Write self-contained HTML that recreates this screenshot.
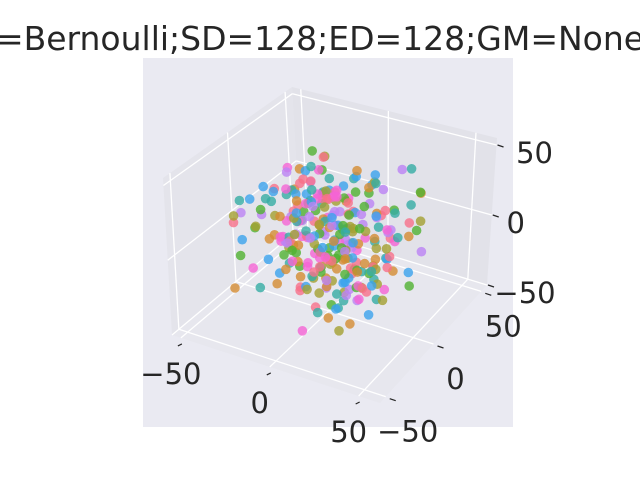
<!DOCTYPE html>
<html><head><meta charset="utf-8"><style>
html,body{margin:0;padding:0;background:#fff;}
svg{display:block;font-family:"DejaVu Sans","Liberation Sans",sans-serif;}
</style></head><body>
<svg id="chart" width="640" height="480" viewBox="0 0 640 480">
<rect x="0" y="0" width="640" height="480" fill="#ffffff"/>
<text x="320" y="50" text-anchor="middle" font-size="33" fill="#262626">=Bernoulli;SD=128;ED=128;GM=None</text>
<rect x="143" y="58" width="370" height="369" fill="#eaeaf2"/>
<g id="panes"></g><g id="grid"></g><g id="pts"></g><g id="ticks"></g>
</svg>
<script>
const xs=[12,-30,5,33,-18,27,-8,40,-36,15,-2,22,-25,8,35,-12,0,-38,18,-22,30,-5,10,-28,25,-15,38,-33,3,20,-10,28,-20,6,-40,14,-6,32,-26,1,
24,-16,36,-3,-31,11,29,-23,7,-35,17,-9,34,-19,2,26,-13,39,-29,9,-1,21,-24,13,37,-11,4,-37,19,-21,31,-7,16,-27,23,-14,35,-34,0,22,
-8,30,-17,12,-39,6,27,-4,-30,18,-12,33,-25,9,38,-15,3,-33,20,-20,28,-6,14,-28,25,-18,36,-36,5,19,-10,26,-22,8,-38,15,-3,31,-24,2,
17,-14,34,-1,-32,10,29,-26,7,-34,21,-9,32,-17,4,27,-11,37,-31,11,-2,23,-19,13,35,-13,6,-35,16,-23,30,-5,18,-29,24,-16,33,-37,1,20,
-5,18,-22,9,27,-14,3,-30,20,-8,14,-19,31,-2,7,-26,24,-11,0,16,-33,11,-17,28,-6,22,-24,5,-12,34,-28,13,-3,25,-20,8,-9,19,-35,2,
30,-15,10,-27,17,-1,26,-21,6,-10,23,-32,12,-4,29,-18,4,-25,15,-7,21,-13,32,-23,1,-16,9,27,-29,14,-6,18,-11,24,-2,-34,11,20,-19,5,
-27,16,-3,29,-14,7,-22,22,-8,13,-31,3,26,-17,10,-5,33,-24,0,19,-12,6,-28,25,-1,15,-20,9,-36,21,-9,12,28,-15,2,-23,17,-4,31,-26,
8,-13,24,-30,14,-7,20,-18,4,27,-2,-21,11,16,-33,6,-10,23,-25,1];
const ys=[-20,15,33,-5,28,-35,10,-12,3,38,-28,20,-8,-38,5,30,-22,12,-30,36,-15,25,-2,-33,18,8,-25,22,-10,-18,35,0,27,-36,14,-6,31,-26,9,-14,
38,-3,19,-31,24,-20,6,32,-11,-24,15,29,-37,4,21,-16,11,-29,26,-7,34,-21,2,17,-33,-9,37,-19,7,28,-27,13,-4,23,-34,1,30,-12,16,-23,
-30,9,25,-17,4,36,-1,-27,20,-36,11,33,-8,-22,27,-13,18,-32,6,24,-26,14,-5,38,-18,2,-29,21,-11,31,-3,-34,17,8,-24,35,-15,26,-7,12,
-20,29,-35,5,22,-9,37,-28,15,3,-16,32,-25,19,-2,-31,10,27,-14,34,-21,7,-38,23,-6,16,36,-23,1,-12,28,-33,13,-19,30,-4,24,-27,9,-10,
14,-9,25,-27,3,18,-16,8,-31,22,-4,11,-20,29,-13,5,-24,16,-1,-34,27,-7,12,-19,33,-11,2,-28,20,7,-15,24,-3,-22,10,31,-26,0,17,-12,
-6,21,-29,13,-18,28,4,-10,35,-23,1,15,-14,26,-32,9,-5,19,-21,30,-8,6,-25,23,-2,12,-17,34,-9,-30,18,3,-13,27,-20,10,-4,-26,21,-11,
5,-19,32,-7,14,-24,8,-1,25,-15,20,-33,11,-6,29,-12,2,-22,16,-28,24,-3,13,-18,31,-9,7,-25,19,0,-14,26,-31,9,-5,22,-20,15,-10,28,
-27,4,17,-8,33,-16,1,23,-23,11,-12,30,-2,-29,18,-6,8,-21,25,-15];
const zs=[5,-25,18,30,-10,-30,22,8,-15,0,35,-20,12,-35,26,-5,32,14,-28,3,20,-12,-38,28,-3,16,-22,9,38,-18,2,-32,24,-8,10,34,-26,-14,19,-1,
-6,27,-33,12,23,-17,-29,4,36,-9,-23,15,1,-36,29,11,-19,-4,21,33,-13,6,-27,25,-7,-34,17,-2,37,-21,7,31,-16,-24,13,-39,24,3,-11,28,
14,-8,36,-30,20,-4,-18,30,0,10,-25,22,-35,8,-14,33,-6,19,-21,26,-31,5,15,-10,38,-27,-2,24,11,-37,29,-16,6,-23,17,-12,32,-5,-28,21,
-19,9,27,-33,1,18,-9,35,-24,12,4,-29,23,-15,31,-1,-20,7,-36,16,25,-11,-3,34,-26,13,-7,28,-17,2,-32,20,-22,10,37,-13,19,-30,-8,0,
-12,20,4,-26,15,-3,30,-18,9,-8,24,-31,1,13,-22,34,-6,19,-14,7,-28,11,26,-1,-17,32,-9,21,-24,5,16,-33,10,-4,28,-20,2,23,-11,-29,
14,-7,33,-15,6,25,-25,0,18,-10,31,-23,8,-2,22,-32,12,-16,27,3,-21,17,-5,-27,29,9,-13,36,-19,1,20,-30,7,-9,24,-3,15,-24,11,30,
-16,4,26,-8,-34,19,-1,13,-26,32,-12,6,21,-18,0,-29,14,25,-6,9,-22,33,-4,17,-14,2,27,-31,10,-10,23,-20,5,29,-25,12,-2,18,-15,35,
-7,8,-23,22,-11,3,28,-28,16,-5,-19,31,-9,11,-32,20,1,-17,26,-13];
const cls=[3,1,5,0,7,2,6,4,1,3,0,5,2,7,4,6,3,0,1,5,7,2,4,6,0,3,5,1,6,2,7,4,3,0,5,1,2,6,4,7,
0,5,3,2,1,6,7,4,0,3,2,5,6,1,4,7,3,0,5,2,6,1,4,3,7,0,2,5,1,6,3,4,0,7,2,5,1,3,6,4,
7,0,2,3,5,1,4,6,0,2,7,3,1,5,6,4,2,0,3,7,1,6,5,4,0,3,2,7,6,1,5,4,3,0,2,6,7,1,5,3,
4,0,6,2,1,7,3,5,0,4,2,6,1,3,7,5,0,2,4,6,3,1,7,5,2,0,6,4,3,1,5,7,0,2,6,3,4,1,7,5,
5,2,7,0,4,1,3,6,2,5,0,7,4,3,1,6,5,2,0,4,7,3,6,1,2,5,4,0,3,7,6,2,1,5,0,4,3,6,7,2,
1,4,0,6,3,5,2,7,4,1,6,0,5,3,2,7,1,4,6,0,3,5,7,2,0,6,1,4,5,3,7,0,2,4,6,1,3,5,7,2,
6,3,1,4,0,5,7,2,3,6,4,1,0,7,5,2,6,3,4,0,1,7,2,5,3,6,0,4,7,1,5,2,3,0,6,4,1,7,5,3,
2,6,0,4,7,1,3,5,6,2,4,0,1,7,3,5,2,6,4,0];
const palette=["#f77189","#d58c32","#a4a031","#50b131","#36ada4","#3ba3ec","#bb83f4","#f564d4"];
const xTicks=[-50,0,50], yTicks=[-50,0,50], zTicks=[-50,0,50];
const xTickLabels=["−50","0","50"], yTickLabels=["−50","0","50"], zTickLabels=["−50","0","50"];

const xlim=[-55,62], ylim=[-56,56], zlim=[-50,55];
const C={"000":[172,335],"100":[380,403],"110":[487,285],"010":[300,228],
         "001":[163,178],"101":[382,238],"111":[497,138],"011":[292,87]};
function proj(x,y,z){
  const u=(x-xlim[0])/(xlim[1]-xlim[0]),v=(y-ylim[0])/(ylim[1]-ylim[0]),w=(z-zlim[0])/(zlim[1]-zlim[0]);
  let px=0,py=0;
  for(const a of [0,1])for(const b of [0,1])for(const c of [0,1]){
    const wt=(a?u:1-u)*(b?v:1-v)*(c?w:1-w);const p=C[""+a+b+c];px+=wt*p[0];py+=wt*p[1];}
  return [px,py];
}
const NS="http://www.w3.org/2000/svg";
function mk(tag,attrs,parent){const e=document.createElementNS(NS,tag);for(const k in attrs)e.setAttribute(k,attrs[k]);parent.appendChild(e);return e;}
const panes=document.getElementById('panes'),grid=document.getElementById('grid'),pts=document.getElementById('pts'),tk=document.getElementById('ticks');
function poly(keys,fill,name){const d=keys.map(k=>C[k].join(',')).join(' ');const e=mk('polygon',{points:d,fill:fill},panes);

}
poly(["000","010","011","001"],"#e4e4eb","left-pane");
poly(["010","110","111","011"],"#e2e2e9","back-pane");
poly(["000","100","110","010"],"#e7e7ee","floor-pane");
function line(a,b,attrs,name,parent){const e=mk('line',Object.assign({x1:a[0],y1:a[1],x2:b[0],y2:b[1]},attrs),parent);

}
const g={stroke:"#ffffff","stroke-width":1.3};
xTicks.forEach(t=>{line(proj(t,ylim[0],zlim[0]),proj(t,ylim[1],zlim[0]),g,'x-gridline',grid);line(proj(t,ylim[1],zlim[0]),proj(t,ylim[1],zlim[1]),g,'x-gridline',grid);});
yTicks.forEach(t=>{line(proj(xlim[0],t,zlim[0]),proj(xlim[1],t,zlim[0]),g,'y-gridline',grid);line(proj(xlim[0],t,zlim[0]),proj(xlim[0],t,zlim[1]),g,'y-gridline',grid);});
zTicks.forEach(t=>{line(proj(xlim[0],ylim[0],t),proj(xlim[0],ylim[1],t),g,'z-gridline',grid);line(proj(xlim[0],ylim[1],t),proj(xlim[1],ylim[1],t),g,'z-gridline',grid);});
for(let i=0;i<xs.length;i++){const p=proj(xs[i],ys[i],zs[i]);
 const c=mk('circle',{cx:p[0].toFixed(1),cy:p[1].toFixed(1),r:4.8,fill:palette[cls[i]],'fill-opacity':0.8},pts);
 
 }
function lab(p,txt,name){const e=mk('text',{x:p[0],y:p[1],'text-anchor':'middle','dominant-baseline':'middle','font-size':29,fill:'#262626'},tk);e.textContent=txt;

}
const tkS={stroke:"#262626","stroke-width":1.2};
xTicks.forEach((t,i)=>{const p=proj(t,ylim[0],zlim[0]);line([p[0]+1,p[1]+6],[p[0]-3,p[1]+8],tkS,'x-tick',tk);lab([p[0]-10,p[1]+38],xTickLabels[i],'x-tick-label');});
yTicks.forEach((t,i)=>{const p=proj(xlim[1],t,zlim[0]);line([p[0]+4,p[1]+2],[p[0]+10,p[1]+4],tkS,'y-tick',tk);lab([p[0]+22,p[1]+37],yTickLabels[i],'y-tick-label');});
zTicks.forEach((t,i)=>{const p=proj(xlim[1],ylim[1],t);line([p[0]+1,p[1]],[p[0]+7,p[1]+2],tkS,'z-tick',tk);lab([p[0]+(i===1?24:38),p[1]+10],zTickLabels[i],'z-tick-label');});
</script>
</body></html>
